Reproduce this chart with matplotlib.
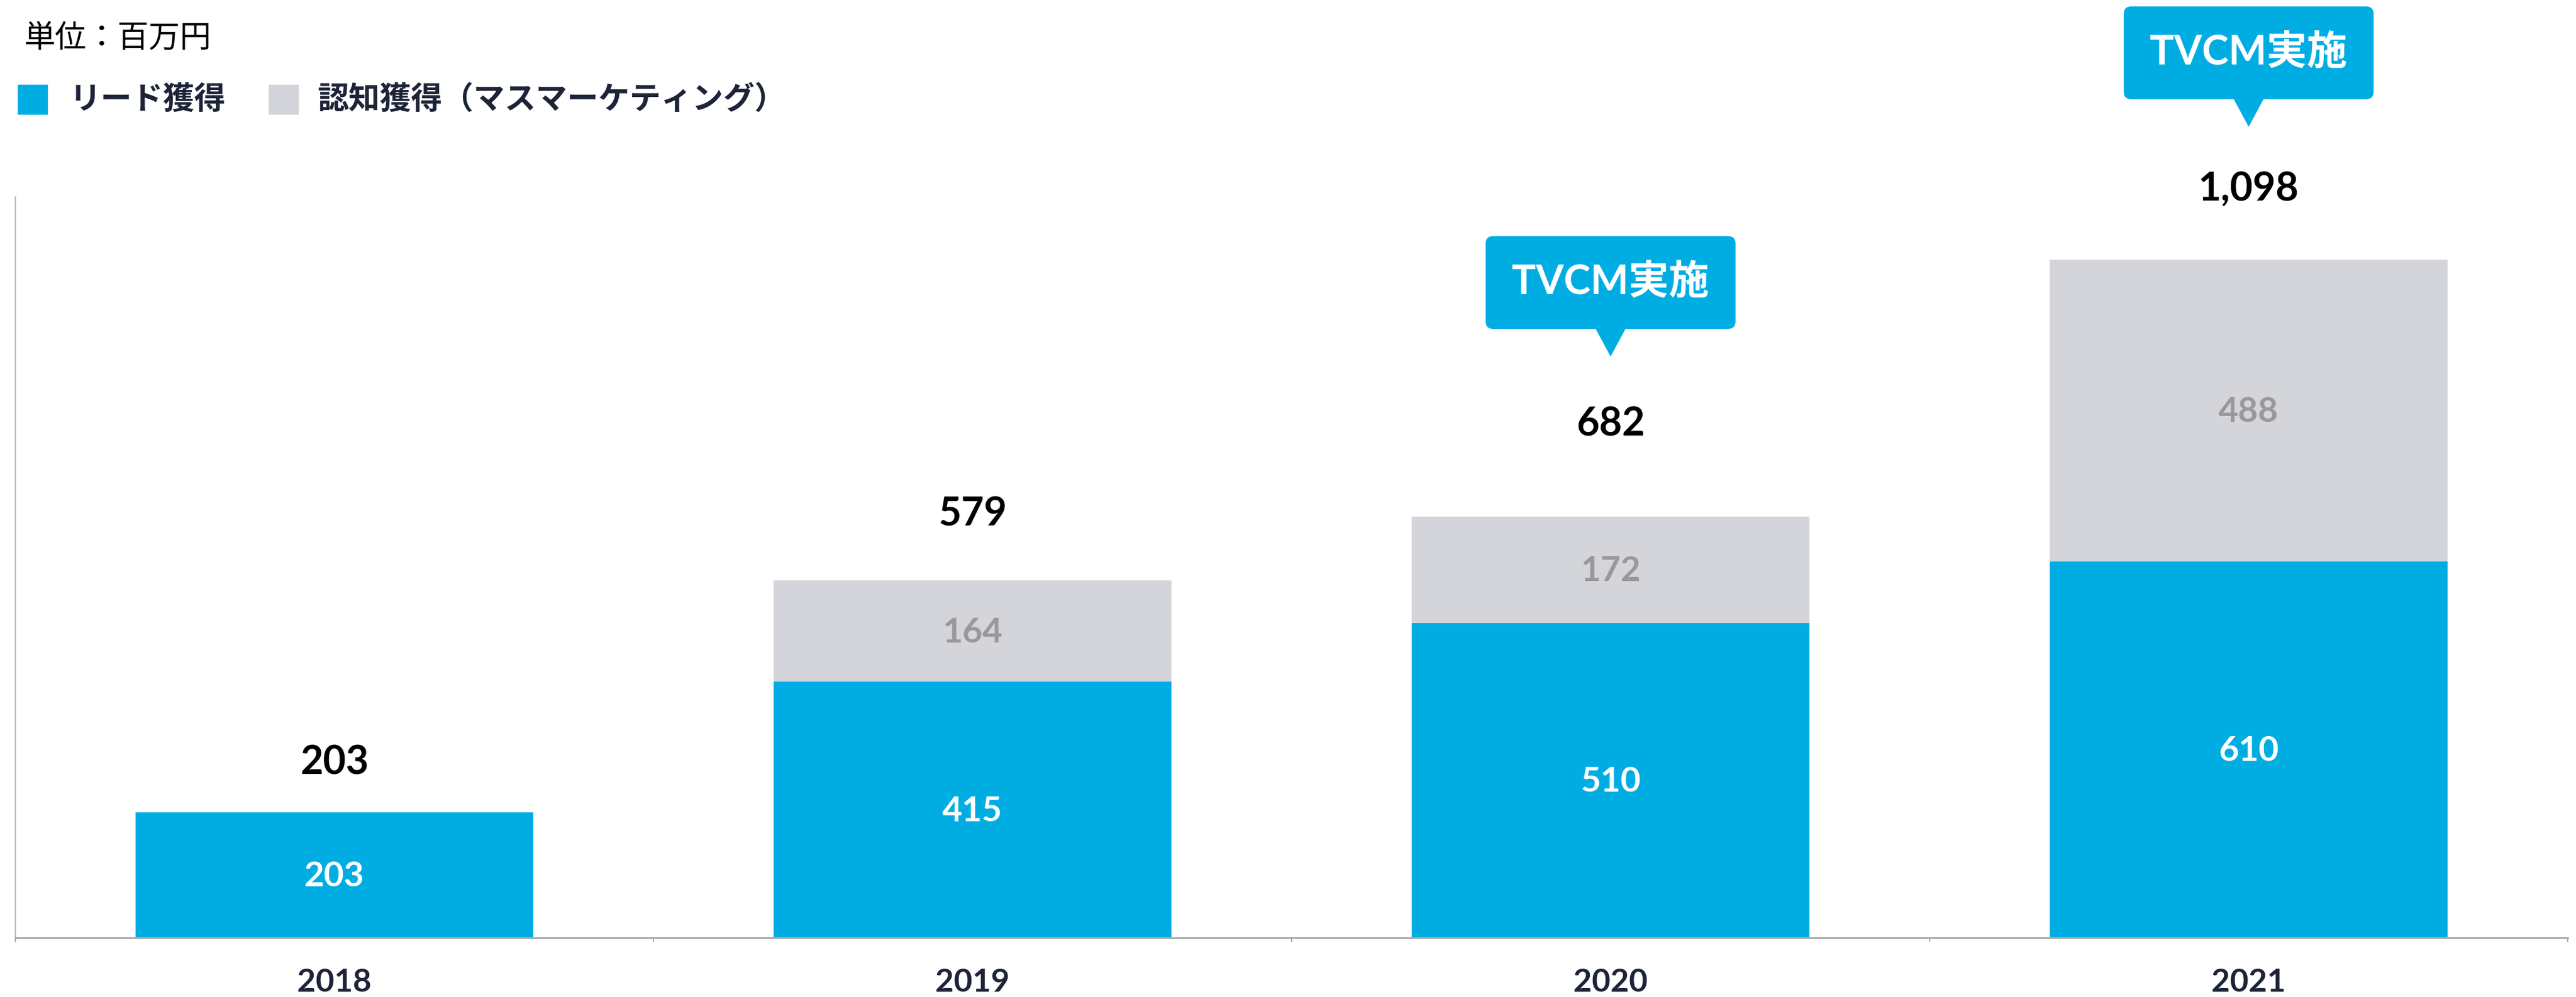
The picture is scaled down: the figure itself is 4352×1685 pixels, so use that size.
import numpy as np
import matplotlib.pyplot as plt
from matplotlib.patches import FancyBboxPatch, Polygon, Rectangle
from matplotlib.transforms import Affine2D, ScaledTranslation

plt.rcParams['font.family'] = ['Lato', 'Noto Sans CJK JP', 'DejaVu Sans']

years = ["2018", "2019", "2020", "2021"]
lead = [203, 415, 510, 610]
awareness = [0, 164, 172, 488]
tvcm = [False, False, True, True]
legend_labels = ["リード獲得", "認知獲得（マスマーケティング）"]
unit_label = "単位：百万円"
callout_text = "TVCM実施"

totals = np.add(lead, awareness)

BLUE = "#00ADE3"
GRAY = "#D4D5DA"
NAVY = "#1E2438"

# layout: gap (points) from bar top to total label / callout tip
label_gap = [30, 40, 56, 43]
callout_gap = [0, 97.5, 97.5, 81]

W, H, DPI = 4352, 1685, 200
fig = plt.figure(figsize=(W / DPI, H / DPI), dpi=DPI)
ax = fig.add_axes([26 / W, 100 / H, 4312 / W, 1252 / H])

x = np.arange(len(years))
ax.bar(x, lead, width=0.623, color=BLUE, zorder=2)
ax.bar(x, awareness, bottom=lead, width=0.623, color=GRAY, zorder=2)

ax.set_xlim(-0.5, 3.5)
ax.set_ylim(0, 1200)

# values inside bars
for i in x:
    ax.annotate(str(lead[i]), xy=(i, lead[i] / 2), xytext=(0, -1),
                textcoords="offset points", ha="center", va="center",
                fontsize=21, color="white", fontweight="bold", zorder=3)
    if awareness[i] > 0:
        ax.annotate(str(awareness[i]), xy=(i, lead[i] + awareness[i] / 2),
                    xytext=(0, -1), textcoords="offset points", ha="center",
                    va="center", fontsize=21, color="#999999",
                    fontweight="bold", zorder=3)
    ax.annotate(f"{totals[i]:,}", xy=(i, totals[i]), xytext=(0, label_gap[i]),
                textcoords="offset points", ha="center", va="center",
                fontsize=24, color="black", fontweight="bold")

# TVCM callouts
pt = Affine2D().scale(DPI / 72)
for i in x:
    if not tvcm[i]:
        continue
    tr = pt + ScaledTranslation(i, totals[i], ax.transData)
    g = callout_gap[i]
    tri = Polygon([(-9.4, g + 17.5), (9.4, g + 17.5), (0, g)], closed=True,
                  transform=tr, facecolor=BLUE, edgecolor="none")
    box = FancyBboxPatch((-76, g + 16.8), 152, 56.5,
                         boxstyle="round,pad=0,rounding_size=4.7",
                         transform=tr, facecolor=BLUE, edgecolor="none")
    fig.add_artist(tri)
    fig.add_artist(box)
    fig.text(0, g + 16.8 + 28.25, callout_text, transform=tr, ha="center",
             va="center", fontsize=24.5, color="white", fontweight="bold")

# axes styling
ax.spines["top"].set_visible(False)
ax.spines["right"].set_visible(False)
ax.spines["left"].set_color("#BBBBBB")
ax.spines["left"].set_linewidth(0.8)
ax.spines["bottom"].set_color("#AAAAAA")
ax.spines["bottom"].set_linewidth(1.1)
ax.set_yticks([])
ax.set_xticks(x, years)
ax.set_xticks([-0.5, 0.5, 1.5, 2.5, 3.5], minor=True)
ax.tick_params(axis="x", which="major", length=0, pad=18.5, labelsize=19.5,
               labelcolor=NAVY)
ax.tick_params(axis="x", which="minor", length=2.5, width=0.8, color="#AAAAAA")
for lab in ax.get_xticklabels():
    lab.set_fontweight("bold")

# unit + legend
cjk = ["Noto Sans CJK JP", "DejaVu Sans"]
fig.text(40 / W, 1 - 64 / H, unit_label, ha="left", va="center", fontsize=19,
         color="black", family=cjk)
fig.add_artist(Rectangle((31 / W, 1 - 192 / H), 48 / W, 48 / H,
                         transform=fig.transFigure, color=BLUE))
fig.text(118 / W, 1 - 168 / H, legend_labels[0], ha="left", va="center",
         fontsize=19, color=NAVY, fontweight="bold", family=cjk)
fig.add_artist(Rectangle((455 / W, 1 - 192 / H), 48 / W, 48 / H,
                         transform=fig.transFigure, color=GRAY))
fig.text(536 / W, 1 - 168 / H, legend_labels[1], ha="left", va="center",
         fontsize=19, color=NAVY, fontweight="bold", family=cjk)

fig.savefig("out.png", dpi=DPI)
